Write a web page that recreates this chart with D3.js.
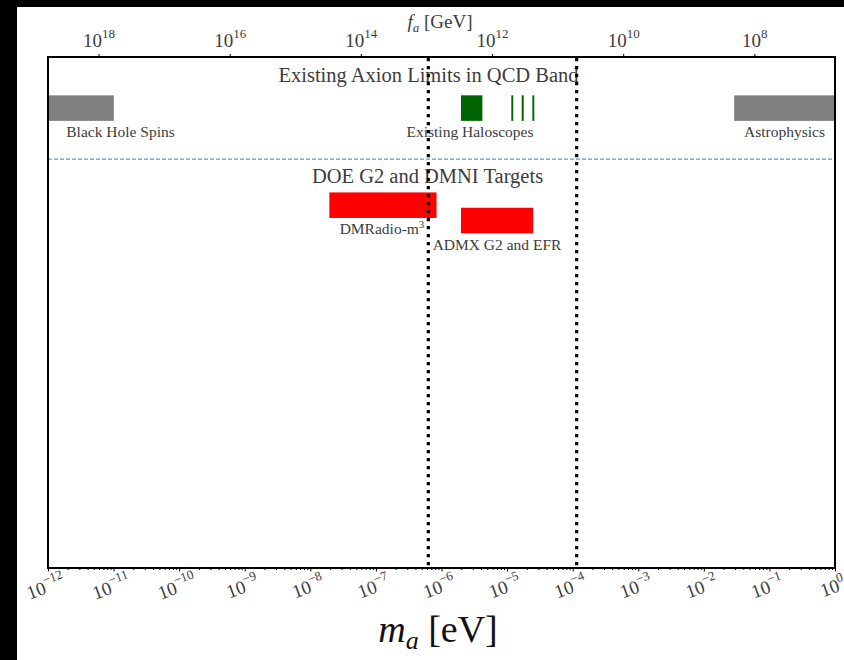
<!DOCTYPE html>
<html>
<head>
<meta charset="utf-8">
<script src="https://cdn.jsdelivr.net/npm/d3@7"></script>
<style>
  html, body { margin: 0; padding: 0; background: #fff; }
  svg { display: block; }
  text { font-family: "Liberation Serif", "DejaVu Serif", serif; }
</style>
</head>
<body>
<svg id="chart" width="844" height="660"></svg>
<script>
// Mass ranges in eV, one entry per bar: [low, high]
const limitNames   = ["Black Hole Spins", "ADMX", "HAYSTAC A", "HAYSTAC B", "CAPP", "Astrophysics"];
const limitLow     = [1e-12, 1.98e-6, 1.16e-5, 1.67e-5, 2.43e-5, 2.9e-2];
const limitHigh    = [1.01e-11, 4.2e-6, 1.24e-5, 1.79e-5, 2.6e-5, 1];
const limitKind    = ["other", "halo", "halo", "halo", "halo", "other"];

const targetNames  = ["DMRadio-m³", "ADMX G2 and EFR"];
const targetLow    = [1.95e-8, 1.98e-6];
const targetHigh   = [8.4e-7, 2.5e-5];

// Edges of the QCD band (eV)
const qcdBand      = [6.3e-7, 1.15e-4];

// Tick values
const massTicks    = d3.range(-12, 1);          // exponents of 10 in eV
const faTicks      = [18, 16, 14, 12, 10, 8];   // exponents of 10 in GeV
const faCoeff      = 6e-6;                      // m_a = faCoeff eV * (1e12 GeV / f_a)

const svg = d3.select("#chart");
const W = 844, H = 660;
const m = { left: 48, right: W - 835, top: 57, bottom: H - 568 };
const iw = W - m.left - m.right, ih = H - m.top - m.bottom;

// dark margins
svg.append("rect").attr("x", 0).attr("y", 0).attr("width", W).attr("height", 7).attr("fill", "#000");
svg.append("rect").attr("x", 0).attr("y", 0).attr("width", 17).attr("height", H).attr("fill", "#000");

const x = d3.scaleLog().domain([1e-12, 1]).range([m.left, m.left + iw]);
const y = d3.scaleLinear().domain([0, 1]).range([m.top + ih, m.top]);

const g = svg.append("g");
const txt = "#3c3c3c";

// bars: existing limits
const limits = limitNames.map((n, i) => ({ n, lo: limitLow[i], hi: limitHigh[i], k: limitKind[i] }));
g.selectAll("rect.limit").data(limits).join("rect")
  .attr("class", "limit")
  .attr("x", d => x(d.lo))
  .attr("width", d => x(d.hi) - x(d.lo))
  .attr("y", y(0.925))
  .attr("height", y(0.875) - y(0.925))
  .attr("fill", d => d.k === "halo" ? "#006400" : "#808080");

// bars: targets
const targets = targetNames.map((n, i) => ({ n, lo: targetLow[i], hi: targetHigh[i] }));
const targetRows = [[0.685, 0.735], [0.655, 0.705]];
g.selectAll("rect.target").data(targets).join("rect")
  .attr("class", "target")
  .attr("x", d => x(d.lo))
  .attr("width", d => x(d.hi) - x(d.lo))
  .attr("y", (d, i) => y(targetRows[i][1]))
  .attr("height", (d, i) => y(targetRows[i][0]) - y(targetRows[i][1]))
  .attr("fill", "#ff0000");

// separator between the two groups
g.append("line")
  .attr("x1", m.left).attr("x2", m.left + iw)
  .attr("y1", y(0.8)).attr("y2", y(0.8))
  .attr("stroke", "#1f77b4").attr("stroke-opacity", 0.75)
  .attr("stroke-width", 1.2).attr("stroke-dasharray", "4,2");

// text annotations
function label(xp, yp, s, size) {
  return g.append("text").attr("x", xp).attr("y", yp)
    .attr("text-anchor", "middle").attr("font-size", size).attr("fill", txt).text(s);
}
label(428.5, y(0.951), "Existing Axion Limits in QCD Band", 20.5);
label(120.5, 137, "Black Hole Spins", 15.5);
label(470, 137, "Existing Haloscopes", 15.5);
label(784.5, 137, "Astrophysics", 15.5);
label(427.5, 183, "DOE G2 and DMNI Targets", 20.5);
const dm = g.append("text").attr("x", 382).attr("y", 234).attr("text-anchor", "middle")
  .attr("font-size", 15.5).attr("fill", txt);
dm.append("tspan").text("DMRadio-m");
dm.append("tspan").attr("font-size", 11).attr("dy", -6).text("3");
label(497, 250, "ADMX G2 and EFR", 15.5);

// QCD band edges
g.selectAll("line.qcd").data(qcdBand).join("line")
  .attr("class", "qcd")
  .attr("x1", d => x(d)).attr("x2", d => x(d))
  .attr("y1", m.top + 1).attr("y2", m.top + ih)
  .attr("stroke", "#000").attr("stroke-width", 3.2)
  .attr("stroke-dasharray", "3.2,4.8");

// bottom axis: major and minor ticks
const minor = [];
massTicks.slice(0, -1).forEach(e => { for (let k = 2; k < 10; k++) minor.push(k * Math.pow(10, e)); });
svg.append("g").attr("transform", `translate(0,${m.top + ih})`)
  .call(d3.axisBottom(x).tickValues(minor).tickSize(2).tickFormat(() => ""))
  .call(a => a.select(".domain").remove());
svg.append("g").attr("transform", `translate(0,${m.top + ih})`)
  .call(d3.axisBottom(x).tickValues(massTicks.map(e => Math.pow(10, e))).tickSize(3.5).tickFormat(() => ""))
  .call(a => a.select(".domain").remove());

// bottom tick labels, rotated
const bl = svg.append("g").selectAll("text").data(massTicks).join("text")
  .attr("transform", e => `translate(${x(Math.pow(10, e))},${593}) rotate(-20)`)
  .attr("text-anchor", "middle").attr("font-size", 19).attr("fill", txt);
bl.append("tspan").text("10");
bl.append("tspan").attr("font-size", 13).attr("dy", -9).text(e => e < 0 ? "\u2212" + (-e) : e);

// top axis in f_a
const xTop = e => x(faCoeff * 1e12 / Math.pow(10, e));
svg.append("g").selectAll("line").data(faTicks).join("line")
  .attr("x1", xTop).attr("x2", xTop)
  .attr("y1", m.top).attr("y2", m.top - 3)
  .attr("stroke", "#000").attr("stroke-width", 1);
const tl = svg.append("g").selectAll("text").data(faTicks).join("text")
  .attr("x", xTop).attr("y", 47)
  .attr("text-anchor", "middle").attr("font-size", 19).attr("fill", txt);
tl.append("tspan").text("10");
tl.append("tspan").attr("font-size", 13).attr("dy", -9).text(e => e);

// frame
svg.append("rect").attr("x", m.left).attr("y", m.top).attr("width", iw).attr("height", ih)
  .attr("fill", "none").attr("stroke", "#000").attr("stroke-width", 2);

// axis titles
const fa = svg.append("text").attr("x", 440).attr("y", 28).attr("text-anchor", "middle")
  .attr("font-size", 19).attr("fill", txt);
fa.append("tspan").attr("font-style", "italic").text("f");
fa.append("tspan").attr("font-style", "italic").attr("font-size", 13).attr("dy", 4).text("a");
fa.append("tspan").attr("dy", -4).text(" [GeV]");

const ma = svg.append("text").attr("x", 438).attr("y", 642).attr("text-anchor", "middle")
  .attr("font-size", 38).attr("fill", "#111");
ma.append("tspan").attr("font-style", "italic").text("m");
ma.append("tspan").attr("font-style", "italic").attr("font-size", 26).attr("dy", 7).text("a");
ma.append("tspan").attr("dy", -7).text(" [eV]");
</script>
</body>
</html>
